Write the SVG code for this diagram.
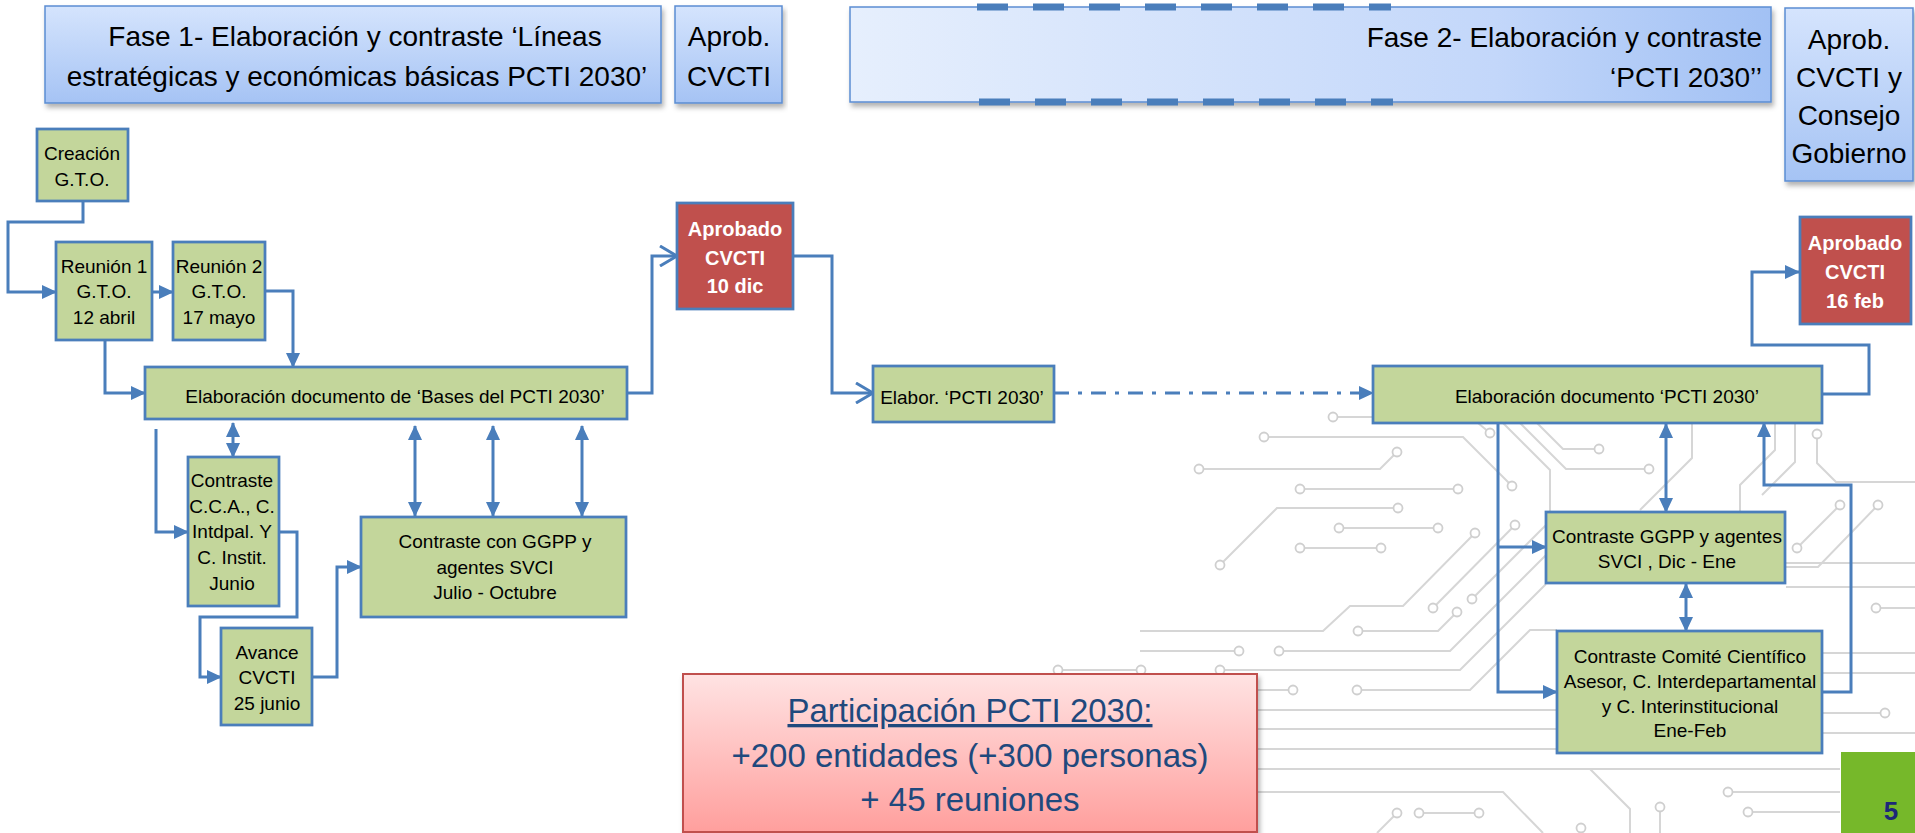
<svg xmlns="http://www.w3.org/2000/svg" width="1915" height="833" viewBox="0 0 1915 833">
<defs>
<style>
.t{font-family:"Liberation Sans",Arial,sans-serif;font-size:19px;fill:#000;text-anchor:middle}
.h{font-size:28px}
.rt{font-weight:bold;fill:#fff;font-size:20px}
.g{fill:#c3d69b;stroke:#4a7ebb;stroke-width:2.75}
.r{fill:#c0504d;stroke:#4a7ebb;stroke-width:2.75}
.hb{stroke:#5b8dd2;stroke-width:1.5}
.conn path{fill:none;stroke:#4a7ebb;stroke-width:3}
.bg polyline{fill:none;stroke:#d6d6d6;stroke-width:2}
.bg circle{fill:#fff;stroke:#cfcfcf;stroke-width:1.8}
.dash{fill:#4a7ebb}
.p{font-size:33px;fill:#1f497d}
</style>
<linearGradient id="gv" x1="0" y1="0" x2="0" y2="1"><stop offset="0" stop-color="#d5e4fd"/><stop offset="1" stop-color="#a5c3f4"/></linearGradient>
<linearGradient id="gh" x1="0" y1="0" x2="1" y2="0"><stop offset="0" stop-color="#e6effd"/><stop offset="0.7" stop-color="#c3d7fa"/><stop offset="1" stop-color="#a2c1f4"/></linearGradient>
<linearGradient id="gp" x1="0" y1="0" x2="0" y2="1"><stop offset="0" stop-color="#ffe3e3"/><stop offset="1" stop-color="#ff9f9d"/></linearGradient>
<filter id="sh" x="-5%" y="-10%" width="110%" height="130%"><feDropShadow dx="2" dy="4" stdDeviation="2.5" flood-color="#000" flood-opacity="0.3"/></filter>
<marker id="tri" viewBox="0 0 15 14" refX="14" refY="7" markerWidth="15" markerHeight="14" markerUnits="userSpaceOnUse" orient="auto-start-reverse"><path d="M0,0 L15,7 L0,14 z" fill="#4a7ebb"/></marker>
<marker id="open" viewBox="0 0 20 22" refX="18" refY="11" markerWidth="20" markerHeight="22" markerUnits="userSpaceOnUse" orient="auto"><path d="M1,1 L18,11 L1,21" fill="none" stroke="#4a7ebb" stroke-width="3"/></marker>
</defs>
<rect x="0" y="0" width="1915" height="833" fill="#fff"/>

<g class="bg" id="circuit">
<polyline points="1333,417 1372,417"/><circle cx="1333" cy="417" r="4.5"/>
<polyline points="1264,437 1463,437 1512,486"/><circle cx="1264" cy="437" r="4.5"/><circle cx="1512" cy="486" r="4.5"/>
<polyline points="1199,469 1380,469 1397,452"/><circle cx="1199" cy="469" r="4.5"/><circle cx="1397" cy="452" r="4.5"/>
<polyline points="1300,489 1458,489"/><circle cx="1300" cy="489" r="4.5"/><circle cx="1458" cy="489" r="4.5"/>
<polyline points="1220,565 1277,508 1398,508"/><circle cx="1220" cy="565" r="4.5"/><circle cx="1398" cy="508" r="4.5"/>
<polyline points="1339,528 1438,528"/><circle cx="1339" cy="528" r="4.5"/><circle cx="1438" cy="528" r="4.5"/>
<polyline points="1300,548 1381,548"/><circle cx="1300" cy="548" r="4.5"/><circle cx="1381" cy="548" r="4.5"/>
<polyline points="1140,631 1323,631 1350,606 1403,606 1475,533"/><circle cx="1475" cy="533" r="4.5"/>
<polyline points="1358,631 1438,631 1457,612"/><circle cx="1358" cy="631" r="4.5"/><circle cx="1457" cy="612" r="4.5"/>
<polyline points="1140,651 1239,651"/><circle cx="1239" cy="651" r="4.5"/>
<polyline points="1279,651 1450,651 1546,555"/><circle cx="1279" cy="651" r="4.5"/>
<polyline points="1220,670 1460,670 1546,584"/><circle cx="1220" cy="670" r="4.5"/>
<polyline points="1058,670 1141,670"/><circle cx="1058" cy="670" r="4.5"/><circle cx="1141" cy="670" r="4.5"/>
<polyline points="1257,690 1293,690"/><circle cx="1293" cy="690" r="4.5"/>
<polyline points="1357,690 1470,690 1530,630 1557,630"/><circle cx="1357" cy="690" r="4.5"/>
<polyline points="1257,710 1557,710"/>
<polyline points="1257,729 1557,729"/>
<polyline points="1257,749 1557,749"/>
<polyline points="1257,769 1840,769"/>
<polyline points="1590,769 1630,809 1630,833"/>
<polyline points="1257,792 1503,792 1543,833"/>
<polyline points="1397,813 1377,833"/><circle cx="1397" cy="813" r="4.5"/>
<polyline points="1419,813 1479,813"/><circle cx="1419" cy="813" r="4.5"/><circle cx="1479" cy="813" r="4.5"/>
<polyline points="1433,608 1515,525"/><circle cx="1433" cy="608" r="4.5"/><circle cx="1515" cy="525" r="4.5"/>
<polyline points="1472,599 1546,525"/><circle cx="1472" cy="599" r="4.5"/>
<polyline points="1478,423 1490,433"/><circle cx="1490" cy="433" r="4.5"/>
<polyline points="1503,423 1550,470 1550,512"/>
<polyline points="1537,423 1563,449 1599,449"/><circle cx="1599" cy="449" r="4.5"/>
<polyline points="1520,423 1566,469 1649,469"/><circle cx="1649" cy="469" r="4.5"/>
<polyline points="1692,423 1692,458 1640,510"/>
<polyline points="1775,423 1775,450 1740,485 1740,512"/>
<polyline points="1795,423 1795,462 1762,495"/>
<polyline points="1817,434 1817,463 1836,482 1915,482"/><circle cx="1817" cy="434" r="4.5"/>
<polyline points="1840,505 1797,548"/><circle cx="1840" cy="505" r="4.5"/><circle cx="1797" cy="548" r="4.5"/>
<polyline points="1878,505 1818,567 1786,567"/><circle cx="1878" cy="505" r="4.5"/>
<polyline points="1785,563 1915,563"/>
<polyline points="1786,587 1915,587"/>
<polyline points="1876,608 1915,608"/><circle cx="1876" cy="608" r="4.5"/>
<polyline points="1822,653 1915,653"/>
<polyline points="1822,673 1915,673"/>
<polyline points="1822,713 1885,713"/><circle cx="1885" cy="713" r="4.5"/>
<polyline points="1822,733 1915,733"/>
<polyline points="1728,792 1840,792"/><circle cx="1728" cy="792" r="4.5"/>
<polyline points="1748,812 1840,812"/><circle cx="1748" cy="812" r="4.5"/>
<polyline points="1660,807 1660,833"/><circle cx="1660" cy="807" r="4.5"/>
<polyline points="1581,828 1581,833"/><circle cx="1581" cy="828" r="4.5"/>
</g>

<g id="n-fase1"><rect x="45" y="6" width="616" height="97" fill="url(#gv)" class="hb" filter="url(#sh)"/>
<text class="t h" x="355" y="46">Fase 1- Elaboración y contraste ‘Líneas</text>
<text class="t h" x="357" y="86">estratégicas y económicas básicas PCTI 2030’</text></g>
<g id="n-aprob1"><rect x="675" y="6" width="107" height="97" fill="url(#gv)" class="hb" filter="url(#sh)"/>
<text class="t h" x="729" y="46">Aprob.</text><text class="t h" x="729" y="86">CVCTI</text></g>
<g id="n-fase2"><rect x="850" y="7" width="921" height="95" fill="url(#gh)" class="hb" filter="url(#sh)"/>
<text class="t h" x="1762" y="47" style="text-anchor:end">Fase 2- Elaboración y contraste</text>
<text class="t h" x="1762" y="87" style="text-anchor:end">‘PCTI 2030’’</text>
<rect class="dash" x="977" y="3.5" width="31" height="7"/><rect class="dash" x="1033" y="3.5" width="31" height="7"/><rect class="dash" x="1089" y="3.5" width="31" height="7"/><rect class="dash" x="1145" y="3.5" width="31" height="7"/><rect class="dash" x="1201" y="3.5" width="31" height="7"/><rect class="dash" x="1257" y="3.5" width="31" height="7"/><rect class="dash" x="1313" y="3.5" width="31" height="7"/><rect class="dash" x="1369" y="3.5" width="22" height="7"/>
<rect class="dash" x="979" y="98.5" width="31" height="7"/><rect class="dash" x="1035" y="98.5" width="31" height="7"/><rect class="dash" x="1091" y="98.5" width="31" height="7"/><rect class="dash" x="1147" y="98.5" width="31" height="7"/><rect class="dash" x="1203" y="98.5" width="31" height="7"/><rect class="dash" x="1259" y="98.5" width="31" height="7"/><rect class="dash" x="1315" y="98.5" width="31" height="7"/><rect class="dash" x="1371" y="98.5" width="22" height="7"/></g>
<g id="n-aprob2"><rect x="1785" y="8" width="128" height="173" fill="url(#gv)" class="hb" filter="url(#sh)"/>
<text class="t h" x="1849" y="49">Aprob.</text><text class="t h" x="1849" y="87">CVCTI y</text><text class="t h" x="1849" y="125">Consejo</text><text class="t h" x="1849" y="163">Gobierno</text></g>

<g class="conn" id="connectors">
<path d="M83,201 V222 H8 V292 H56" marker-end="url(#tri)"/>
<path d="M152,292 H173" marker-end="url(#tri)"/>
<path d="M265,291 H293 V367" marker-end="url(#tri)"/>
<path d="M105,340 V393 H145" marker-end="url(#tri)"/>
<path d="M627,393 H652 V256 H677" marker-end="url(#open)"/>
<path d="M793,256 H832 V393 H873" marker-end="url(#open)"/>
<path d="M1054,393 H1373" stroke-dasharray="15 9 4 9" marker-end="url(#tri)"/>
<path d="M1822,394 H1869 V345 H1752 V272 H1799" marker-end="url(#tri)"/>
<path d="M156,429 V532 H188" marker-end="url(#tri)"/>
<path d="M233,423 V457" marker-start="url(#tri)" marker-end="url(#tri)"/>
<path d="M279,532 H297 V617 H200 V677 H221" marker-end="url(#tri)"/>
<path d="M312,677 H337 V567 H361" marker-end="url(#tri)"/>
<path d="M415,426 V516" marker-start="url(#tri)" marker-end="url(#tri)"/>
<path d="M493,426 V516" marker-start="url(#tri)" marker-end="url(#tri)"/>
<path d="M582,426 V516" marker-start="url(#tri)" marker-end="url(#tri)"/>
<path d="M1498,422 V692 H1557" marker-end="url(#tri)"/>
<path d="M1498,547 H1546" marker-end="url(#tri)"/>
<path d="M1666,424 V512" marker-start="url(#tri)" marker-end="url(#tri)"/>
<path d="M1686,584 V631" marker-start="url(#tri)" marker-end="url(#tri)"/>
<path d="M1822,692 H1851 V485 H1764 V423" marker-end="url(#tri)"/>
</g>

<g id="n-creacion"><rect class="g" x="37" y="129" width="91" height="72"/>
<text class="t" x="82" y="160">Creación</text><text class="t" x="82" y="186">G.T.O.</text></g>
<g id="n-reunion1"><rect class="g" x="56" y="242" width="96" height="98"/>
<text class="t" x="104" y="273">Reunión 1</text><text class="t" x="104" y="298">G.T.O.</text><text class="t" x="104" y="324">12 abril</text></g>
<g id="n-reunion2"><rect class="g" x="173" y="242" width="92" height="98"/>
<text class="t" x="219" y="273">Reunión 2</text><text class="t" x="219" y="298">G.T.O.</text><text class="t" x="219" y="324">17 mayo</text></g>
<g id="n-bases"><rect class="g" x="145" y="367" width="482" height="52"/>
<text class="t" x="395" y="403">Elaboración documento de ‘Bases del PCTI 2030’</text></g>
<g id="n-cca"><rect class="g" x="188" y="457" width="91" height="149"/>
<text class="t" x="232" y="487">Contraste</text><text class="t" x="232" y="513">C.C.A., C.</text><text class="t" x="232" y="538">Intdpal. Y</text><text class="t" x="232" y="564">C. Instit.</text><text class="t" x="232" y="590">Junio</text></g>
<g id="n-avance"><rect class="g" x="221" y="628" width="91" height="97"/>
<text class="t" x="267" y="659">Avance</text><text class="t" x="267" y="684">CVCTI</text><text class="t" x="267" y="710">25 junio</text></g>
<g id="n-ggpp1"><rect class="g" x="361" y="517" width="265" height="100"/>
<text class="t" x="495" y="548">Contraste con GGPP y</text><text class="t" x="495" y="574">agentes SVCI</text><text class="t" x="495" y="599">Julio - Octubre</text></g>
<g id="n-aprobado1"><rect class="r" x="677" y="203" width="116" height="106"/>
<text class="t rt" x="735" y="236">Aprobado</text><text class="t rt" x="735" y="265">CVCTI</text><text class="t rt" x="735" y="293">10 dic</text></g>
<g id="n-elabor"><rect class="g" x="873" y="366" width="181" height="56"/>
<text class="t" x="962" y="404">Elabor. ‘PCTI 2030’</text></g>
<g id="n-pcti"><rect class="g" x="1373" y="366" width="449" height="57"/>
<text class="t" x="1607" y="403">Elaboración documento ‘PCTI 2030’</text></g>
<g id="n-aprobado2"><rect class="r" x="1800" y="217" width="111" height="107"/>
<text class="t rt" x="1855" y="250">Aprobado</text><text class="t rt" x="1855" y="279">CVCTI</text><text class="t rt" x="1855" y="308">16 feb</text></g>
<g id="n-ggpp2"><rect class="g" x="1546" y="512" width="239" height="71"/>
<text class="t" x="1667" y="543">Contraste GGPP y agentes</text><text class="t" x="1667" y="568">SVCI , Dic - Ene</text></g>
<g id="n-comite"><rect class="g" x="1557" y="631" width="265" height="122"/>
<text class="t" x="1690" y="663">Contraste Comité Científico</text><text class="t" x="1690" y="688">Asesor, C. Interdepartamental</text><text class="t" x="1690" y="713">y C. Interinstitucional</text><text class="t" x="1690" y="737">Ene-Feb</text></g>

<g id="n-participacion"><rect x="683" y="674" width="574" height="158" fill="url(#gp)" stroke="#c0504d" stroke-width="2" filter="url(#sh)"/>
<text class="t p" x="970" y="722" text-decoration="underline">Participación PCTI 2030:</text>
<text class="t p" x="970" y="767">+200 entidades (+300 personas)</text>
<text class="t p" x="970" y="811">+ 45 reuniones</text></g>

<g id="n-page"><rect x="1841" y="752" width="74" height="81" fill="#76b82a"/>
<text class="t" x="1891" y="820" style="font-size:26px;font-weight:bold;fill:#1c2878">5</text></g>
</svg>
